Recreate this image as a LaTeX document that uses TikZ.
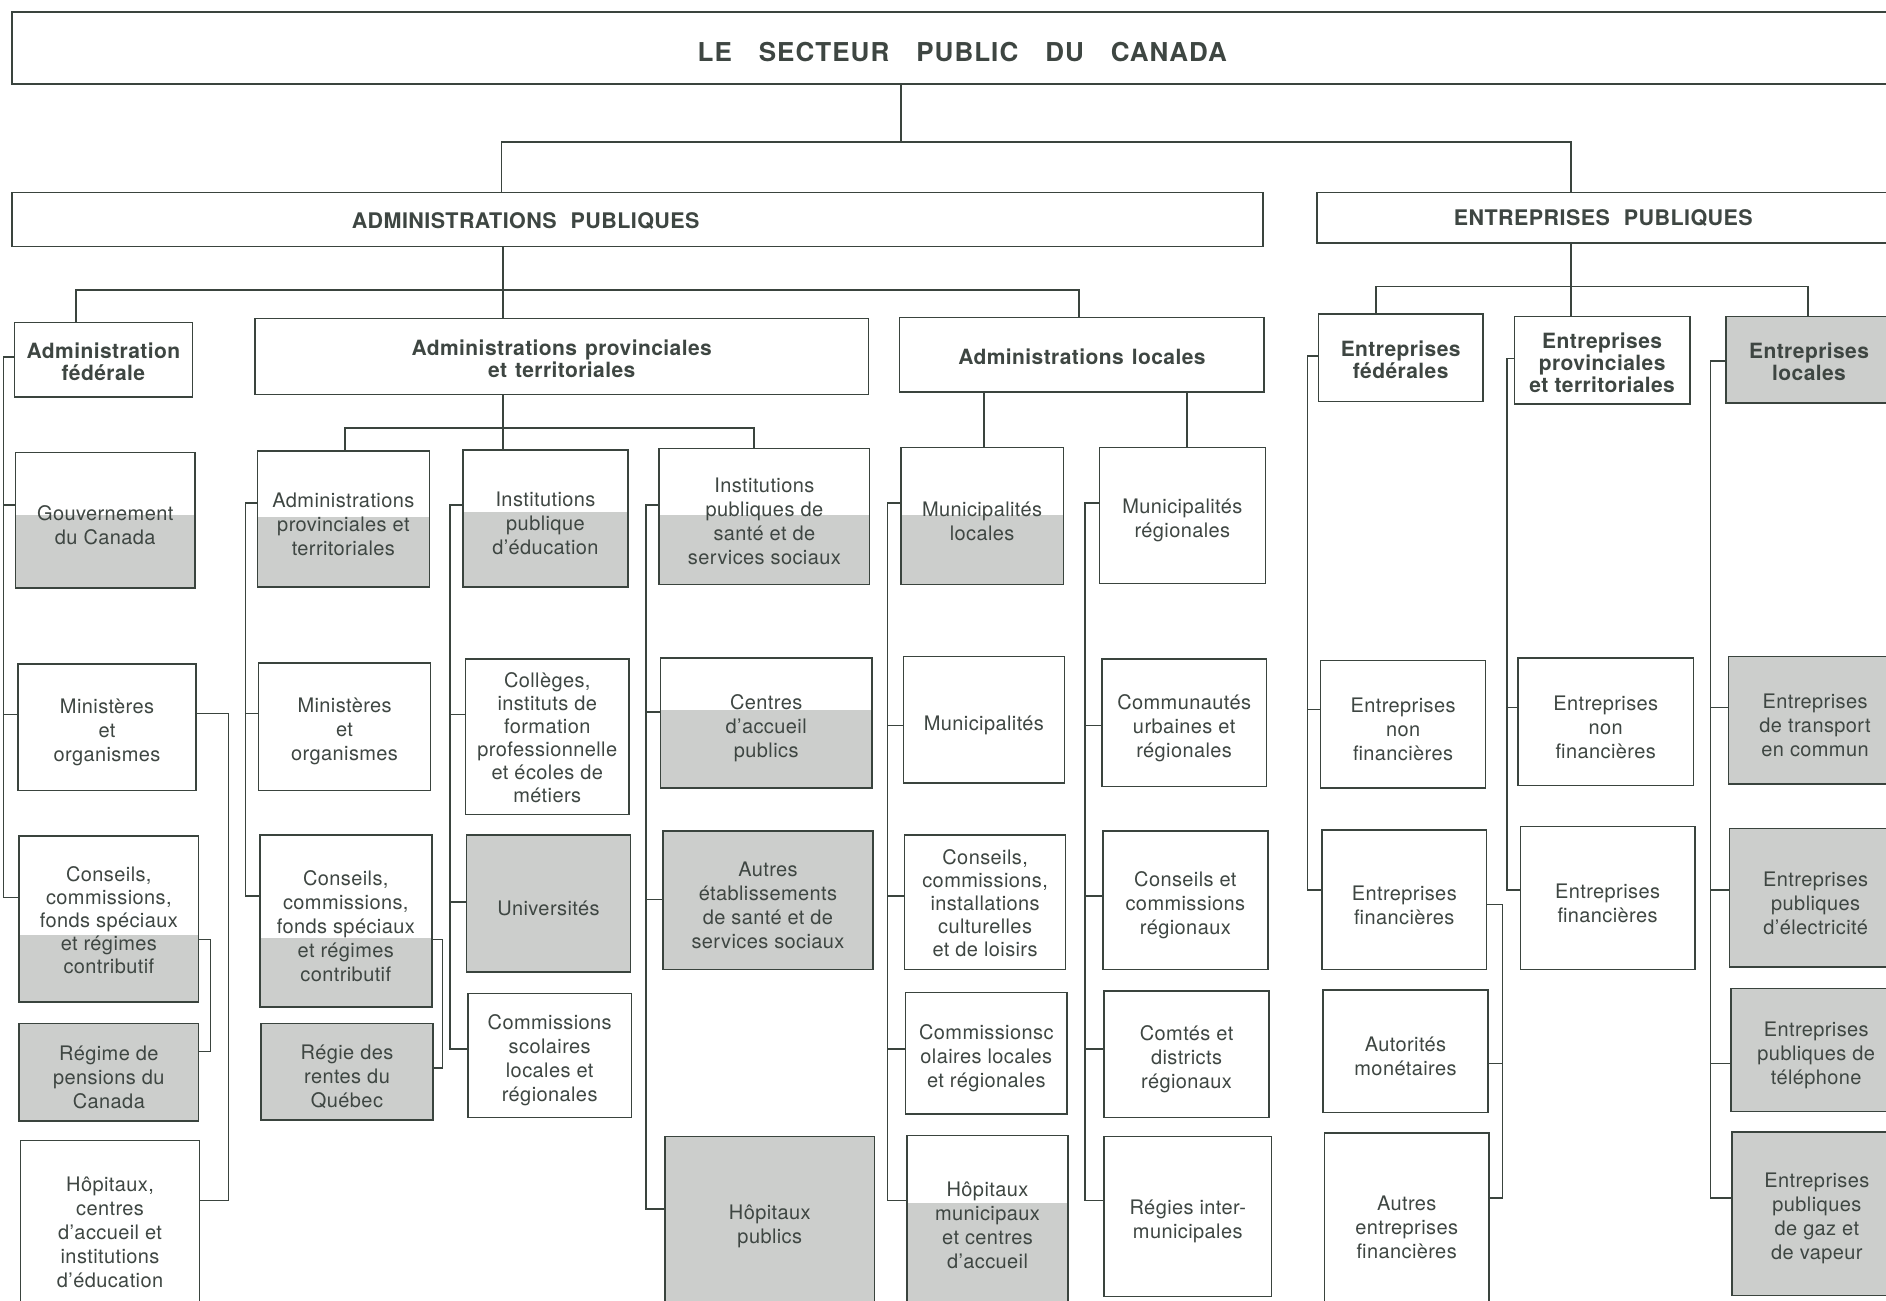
\documentclass[tikz,border=0pt]{standalone}
\usepackage{fontspec}
\setmainfont{TeX Gyre Heros}[LetterSpace=2]
\newfontfamily\ttlfont{TeX Gyre Heros}[LetterSpace=4]
\definecolor{ink}{RGB}{58,68,62}
\definecolor{txt}{RGB}{62,70,66}
\definecolor{shd}{RGB}{204,206,204}
\newcommand\brL[3]{\draw[conn] (#2,#3) -- (#1.west |- 0,#3);}
\newcommand\brR[3]{\draw[conn] (#1.east |- 0,#3) -- (#2,#3);}
\newcommand\mkstrut{\rule{0pt}{25pt}}
% #1 style, #2..#5 = x1,y1,x2,y2 (reference units), #6 name, #7 text
\newcommand\mkbox[7][]{%
  \pgfmathsetmacro\mkbw{(#4-#2)*1.20281}%
  \pgfmathsetmacro\mkbh{(#5-#3)*1.20281}%
  \pgfmathsetmacro\mkbx{(#2+#4)/2}%
  \pgfmathsetmacro\mkby{(#3+#5)/2}%
  \node[box,#1,minimum width=\mkbw pt,minimum height=\mkbh pt] (#6) at (\mkbx,\mkby) {\mkstrut#7};}
\begin{document}
\begin{tikzpicture}[x=1.20281pt, y=-1.20281pt,
  box/.style={draw=ink, line width=1.5pt, inner sep=0pt, align=center, text=txt,
    font=\fontsize{20}{24}\selectfont, /utils/exec={\def\mkstrut{\rule{0pt}{25pt}}}},
  hbox/.style={font=\bfseries\fontsize{21}{22}\selectfont, /utils/exec={\def\mkstrut{\rule{0pt}{20pt}}}},
  tight/.style={font=\fontsize{20}{23}\selectfont, /utils/exec={\def\mkstrut{\rule{0pt}{17pt}}}},
  conn/.style={draw=ink, line width=1.5pt},
  shdfill/.style={fill=shd},
  hdtxt/.style={text=txt, inner sep=0pt, font=\bfseries\fontsize{21.5}{24}\selectfont}]
\useasboundingbox (0,0) rectangle (1568,1081);
\fill[white] (0,0) rectangle (1568,1081);
\clip (0,0) rectangle (1568,1081);

% ---------- shading ----------
\fill[shdfill] (1435,263) rectangle (1573,335);
\fill[shdfill] (13,428) rectangle (162,489);
\fill[shdfill] (16,777) rectangle (165,833);
\fill[shdfill] (16,851) rectangle (165,932);
\fill[shdfill] (214,430) rectangle (357,488);
\fill[shdfill] (216,780) rectangle (359,837);
\fill[shdfill] (217,851) rectangle (360,931);
\fill[shdfill] (385,426) rectangle (522,488);
\fill[shdfill] (388,694) rectangle (524,808);
\fill[shdfill] (548,428) rectangle (723,486);
\fill[shdfill] (549,590) rectangle (725,655);
\fill[shdfill] (551,691) rectangle (726,806);
\fill[shdfill] (553,945) rectangle (727,1086);
\fill[shdfill] (749,428) rectangle (884,486);
\fill[shdfill] (754,1000) rectangle (888,1084);
\fill[shdfill] (1437,546) rectangle (1581,652);
\fill[shdfill] (1438,689) rectangle (1581,804);
\fill[shdfill] (1439,822) rectangle (1581,924);
\fill[shdfill] (1440,941) rectangle (1581,1077);

% ---------- top levels ----------
\mkbox{10}{10}{1590}{70}{top}{}
\node[hdtxt, font=\ttlfont\bfseries\fontsize{26}{28}\selectfont] (toplbl) at (800,43)
  {LE\hspace{27pt}SECTEUR\hspace{27pt}PUBLIC\hspace{27pt}DU\hspace{27pt}CANADA};
\mkbox{10}{160}{1050}{205}{ap}{}
\node[hdtxt] (aplbl) at (437,184) {ADMINISTRATIONS\hspace{14pt}PUBLIQUES};
\mkbox{1095}{160}{1572}{202}{ep}{}
\node[hdtxt] (eplbl) at (1333,181) {ENTREPRISES\hspace{14pt}PUBLIQUES};

\mkbox[hbox]{12}{268}{160}{330}{afed}{Administration\\fédérale}
\mkbox[hbox]{212}{265}{722}{328}{aprov}{Administrations\hspace{8pt}provinciales\\et\hspace{8pt}territoriales}
\mkbox[hbox]{748}{264}{1051}{326}{aloc}{Administrations\hspace{8pt}locales}
\mkbox[hbox]{1096}{261}{1233}{334}{efed}{Entreprises\\fédérales}
\mkbox[hbox]{1259}{263}{1405}{336}{eprov}{Entreprises\\provinciales\\et territoriales}
\mkbox[hbox]{1435}{263}{1573}{335}{eloc}{Entreprises\\locales}

% ---------- column A ----------
\mkbox{13}{376}{162}{489}{gouv}{Gouvernement\\du Canada}
\mkbox{15}{552}{163}{657}{minA}{Ministères\\et\\organismes}
\mkbox[tight]{16}{695}{165}{833}{conA}{Conseils,\\commissions,\\fonds spéciaux\\et\hspace{6pt}régimes\\contributif}
\mkbox{16}{851}{165}{932}{regA}{Régime\hspace{6pt}de\\pensions\hspace{6pt}du\\Canada}
\mkbox{17}{948}{166}{1092}{hopA}{Hôpitaux,\\centres\\d'accueil et\\institutions\\d'éducation}

% ---------- column B ----------
\mkbox{214}{375}{357}{488}{apt}{Administrations\\provinciales et\\territoriales}
\mkbox{215}{551}{358}{657}{minB}{Ministères\\et\\organismes}
\mkbox{216}{694}{359}{837}{conB}{Conseils,\\commissions,\\fonds spéciaux\\et\hspace{6pt}régimes\\contributif}
\mkbox{217}{851}{360}{931}{regB}{Régie des\\rentes\hspace{6pt}du\\Québec}

% ---------- column C ----------
\mkbox{385}{374}{522}{488}{ipe}{Institutions\\publique\\d'éducation}
\mkbox[tight]{387}{548}{523}{677}{col}{Collèges,\\instituts\hspace{6pt}de\\formation\\professionnelle\\et\hspace{6pt}écoles\hspace{6pt}de\\métiers}
\mkbox{388}{694}{524}{808}{univ}{Universités}
\mkbox{389}{826}{525}{929}{csC}{Commissions\\scolaires\\locales\hspace{6pt}et\\régionales}

% ---------- column D ----------
\mkbox{548}{373}{723}{486}{ips}{Institutions\\publiques\hspace{6pt}de\\santé\hspace{6pt}et\hspace{6pt}de\\services sociaux}
\mkbox{549}{547}{725}{655}{cap}{Centres\\d'accueil\\publics}
\mkbox{551}{691}{726}{806}{aes}{Autres\\établissements\\de santé et de\\services sociaux}
\mkbox{553}{945}{727}{1086}{hp}{Hôpitaux\\publics}

% ---------- column E ----------
\mkbox{749}{372}{884}{486}{ml}{Municipalités\\locales}
\mkbox{751}{546}{885}{651}{mun}{Municipalités}
\mkbox[tight]{752}{694}{886}{806}{conE}{Conseils,\\commissions,\\installations\\culturelles\\et\hspace{6pt}de\hspace{6pt}loisirs}
\mkbox{753}{825}{887}{926}{csE}{Commissionsc\\olaires locales\\et régionales}
\mkbox{754}{944}{888}{1084}{hm}{Hôpitaux\\municipaux\\et centres\\d'accueil}

% ---------- column F ----------
\mkbox{914}{372}{1052}{485}{mr}{Municipalités\\régionales}
\mkbox{916}{548}{1053}{654}{cur}{Communautés\\urbaines\hspace{6pt}et\\régionales}
\mkbox{917}{691}{1054}{806}{ccr}{Conseils\hspace{6pt}et\\commissions\\régionaux}
\mkbox{918}{824}{1055}{929}{cdr}{Comtés\hspace{6pt}et\\districts\\régionaux}
\mkbox{918}{945}{1057}{1078}{rim}{Régies inter-\\municipales}

% ---------- column G ----------
\mkbox{1098}{549}{1235}{655}{enfG}{Entreprises\\non\\financières}
\mkbox{1099}{690}{1236}{806}{efG}{Entreprises\\financières}
\mkbox{1100}{823}{1237}{925}{am}{Autorités\\monétaires}
\mkbox{1101}{942}{1238}{1090}{aef}{Autres\\entreprises\\financières}

% ---------- column H ----------
\mkbox{1262}{547}{1408}{653}{enfH}{Entreprises\\non\\financières}
\mkbox{1264}{687}{1409}{806}{efH}{Entreprises\\financières}

% ---------- column I ----------
\mkbox{1437}{546}{1581}{652}{etc}{Entreprises\\de\hspace{6pt}transport\\en\hspace{6pt}commun}
\mkbox{1438}{689}{1581}{804}{epe}{Entreprises\\publiques\\d'électricité}
\mkbox{1439}{822}{1581}{924}{ept}{Entreprises\\publiques\hspace{6pt}de\\téléphone}
\mkbox{1440}{941}{1581}{1077}{epg}{Entreprises\\publiques\\de\hspace{6pt}gaz\hspace{6pt}et\\de\hspace{6pt}vapeur}

% ---------- connectors: upper tree ----------
\draw[conn] (top.south -| 749,0) -- (749,118);
\draw[conn] (ap.north -| 417,0) -- (417,118) -- (1306,118) -- (ep.north -| 1306,0);
\draw[conn] (ap.south -| 418,0) -- (aprov.north -| 418,0);
\draw[conn] (afed.north -| 63,0) -- (63,241) -- (897,241) -- (aloc.north -| 897,0);
\draw[conn] (ep.south -| 1306,0) -- (eprov.north -| 1306,0);
\draw[conn] (efed.north -| 1144,0) -- (1144,238) -- (1503,238) -- (eloc.north -| 1503,0);
\draw[conn] (aprov.south -| 418,0) -- (ipe.north -| 418,0);
\draw[conn] (apt.north -| 287,0) -- (287,356) -- (627,356) -- (ips.north -| 627,0);
\draw[conn] (aloc.south -| 818,0) -- (ml.north -| 818,0);
\draw[conn] (aloc.south -| 987,0) -- (mr.north -| 987,0);

% ---------- column A ----------
\draw[conn] (afed.west |- 0,297) -- (3,297) -- (3,746) -- (conA.west |- 0,746);
\brL{gouv}{3}{420}
\brL{minA}{3}{594}
\draw[conn] (minA.east |- 0,593) -- (190,593) -- (190,998) -- (hopA.east |- 0,998);
\draw[conn] (conA.east |- 0,781) -- (175,781) -- (175,874) -- (regA.east |- 0,874);

% ---------- column B ----------
\draw[conn] (apt.west |- 0,418) -- (204,418) -- (204,745) -- (conB.west |- 0,745);
\brL{minB}{204}{593}
\draw[conn] (conB.east |- 0,781) -- (368,781) -- (368,888) -- (regB.east |- 0,888);

% ---------- column C ----------
\draw[conn] (ipe.west |- 0,420) -- (374,420) -- (374,872) -- (csC.west |- 0,872);
\brL{col}{374}{594}
\brL{univ}{374}{750}

% ---------- column D ----------
\draw[conn] (ips.west |- 0,420) -- (537,420) -- (537,1005) -- (hp.west |- 0,1005);
\brL{cap}{537}{592}
\brL{aes}{537}{748}

% ---------- column E ----------
\draw[conn] (ml.west |- 0,418) -- (738,418) -- (738,998) -- (hm.west |- 0,998);
\brL{mun}{738}{603}
\brL{conE}{738}{745}
\brL{csE}{738}{872}

% ---------- column F ----------
\draw[conn] (mr.west |- 0,418) -- (902,418) -- (902,998) -- (rim.west |- 0,998);
\brL{cur}{902}{603}
\brL{ccr}{902}{745}
\brL{cdr}{902}{872}

% ---------- column G ----------
\draw[conn] (efed.west |- 0,296) -- (1087,296) -- (1087,740) -- (efG.west |- 0,740);
\brL{enfG}{1087}{590}
\draw[conn] (efG.east |- 0,752) -- (1249,752) -- (1249,996) -- (aef.east |- 0,996);
\brR{am}{1249}{884}

% ---------- column H ----------
\draw[conn] (eprov.west |- 0,298) -- (1253,298) -- (1253,740) -- (efH.west |- 0,740);
\brL{enfH}{1253}{588}

% ---------- column I ----------
\draw[conn] (eloc.west |- 0,300) -- (1422,300) -- (1422,996) -- (epg.west |- 0,996);
\brL{etc}{1422}{588}
\brL{epe}{1422}{740}
\brL{ept}{1422}{884}
\end{tikzpicture}
\end{document}
